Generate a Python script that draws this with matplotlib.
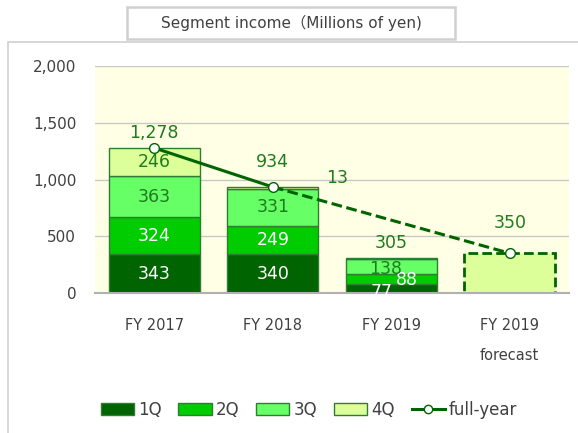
import matplotlib
matplotlib.use("Agg")
import matplotlib.pyplot as plt
from matplotlib.patches import Rectangle
from matplotlib.lines import Line2D
import numpy as np

plt.rcParams['font.family'] = ['DejaVu Sans', 'Noto Sans CJK JP']

categories = ["FY 2017", "FY 2018", "FY 2019", "FY 2019\nforecast"]
q1 = [343, 340, 77, 0]
q2 = [324, 249, 88, 0]
q3 = [363, 331, 138, 0]
q4 = [246, 13, 2, 350]
full_year = [1278, 934, 305, 350]
line_idx = [0, 1, 3]

colors = ["#006400", "#00CC00", "#66FF66", "#DDFF99"]
edge = "#2E7D32"
txt_green = "#1E7B1E"

fig = plt.figure(figsize=(5.78, 4.33), dpi=100)
# outer frame
fig.patches.append(Rectangle((8/578, -0.01), 1, 1.01 - 42/433, transform=fig.transFigure,
                             fill=False, edgecolor="#D0D0D0", linewidth=1.2))
# title box
fig.patches.append(Rectangle((127/578, 1 - 39/433), (455-127)/578, 32/433, transform=fig.transFigure,
                             facecolor="white", edgecolor="#D0D0D0", linewidth=1.8))
fig.text(291/578, 1 - 23/433, "Segment income（Millions of yen)", ha="center", va="center",
         fontsize=11, color="#404040", family=['DejaVu Sans', 'Noto Sans CJK JP'])

ax = fig.add_axes([95/578, 1 - 293/433, (569-95)/578, (293-66)/433])
ax.set_facecolor("#FFFFE5")
x = np.arange(len(categories))
w = 0.77
bottoms = np.zeros(4)
series = [q1, q2, q3, q4]
for i, (vals, c) in enumerate(zip(series, colors)):
    vals = np.array(vals, dtype=float)
    for j in range(4):
        if vals[j] <= 0:
            continue
        if j == 3:
            ax.bar(x[j], vals[j], w, bottom=bottoms[j], color=c, edgecolor="#006400",
                   linewidth=2, linestyle=(0, (3.5, 1.5)), zorder=2)
        else:
            ax.bar(x[j], vals[j], w, bottom=bottoms[j], color=c, edgecolor=edge,
                   linewidth=1, zorder=2)
    bottoms += vals

# data labels inside bars
lab_colors = ["white", "white", txt_green, txt_green]
cum = np.zeros(4)
for i, vals in enumerate(series):
    for j in range(3):
        v = vals[j]
        if v <= 0:
            continue
        yc = cum[j] + v / 2
        xc = x[j]
        if j == 1 and i == 3:
            continue
        if j == 2:
            if i == 0:
                xc, yc = x[j] - 0.08, cum[j] + 5
            elif i == 1:
                xc, yc = x[j] + 0.13, cum[j] + 40
            elif i == 2:
                xc, yc = x[j] - 0.05, cum[j] + 50
            else:
                continue
        ax.text(xc, yc, f"{v:,}", ha="center", va="center", fontsize=12.5,
                color=lab_colors[i], zorder=4)
    cum += np.array(vals, dtype=float)

# 13 label (FY2018 4Q)
ax.text(x[1] + 0.45, 1013, f"{q4[1]:,}", ha="left", va="center", fontsize=12.5, color=txt_green)

# full-year labels
for j in range(4):
    off = {0: 132, 1: 220, 2: 135, 3: 267}[j]
    ax.text(x[j], full_year[j] + off, f"{full_year[j]:,}", ha="center", va="center",
            fontsize=12.5, color=txt_green, zorder=4)

# full-year line
lx = [x[i] for i in line_idx]
ly = [full_year[i] for i in line_idx]
ax.plot(lx[:2], ly[:2], color="#006400", linewidth=2.2, zorder=3)
ax.plot(lx[1:], ly[1:], color="#006400", linewidth=2.2, linestyle=(0, (3.5, 1.5)), zorder=3)
ax.plot(lx, ly, linestyle="none", marker="o", markersize=7, markerfacecolor="white",
        markeredgecolor="#006400", markeredgewidth=1, zorder=5)

ax.set_ylim(0, 2000)
ax.set_xlim(-0.5, 3.5)
ax.set_yticks([0, 500, 1000, 1500, 2000])
ax.set_yticklabels(["0", "500", "1,000", "1,500", "2,000"], fontsize=11, color="#404040")
ax.set_xticks(x)
ax.set_xticklabels(categories, fontsize=10.5, color="#404040", linespacing=2.25, va="top")
ax.tick_params(axis="both", length=0)
ax.tick_params(axis="y", pad=13.5)
ax.tick_params(axis="x", pad=18)
ax.grid(axis="y", color="#C8C8C8", linewidth=1)
ax.set_axisbelow(True)
for s in ["top", "right", "left"]:
    ax.spines[s].set_visible(False)
ax.spines["bottom"].set_color("#B0B0B0")
ax.spines["bottom"].set_linewidth(1.5)

# legend
handles = [Rectangle((0, 0), 1, 1, facecolor=c, edgecolor=edge, linewidth=1) for c in colors]
handles.append(Line2D([0], [0], color="#006400", linewidth=2.2, marker="o", markersize=6,
                      markerfacecolor="white", markeredgecolor="#006400"))
labels = ["1Q", "2Q", "3Q", "4Q", "full-year"]
leg = fig.legend(handles, labels, loc="center", bbox_to_anchor=(309/578, 1 - 410/433),
                 ncol=5, frameon=False, fontsize=12, handlelength=2.0, handleheight=0.75,
                 handletextpad=0.25, columnspacing=1.0, labelcolor="#404040")

fig.savefig("out.png", dpi=100)
